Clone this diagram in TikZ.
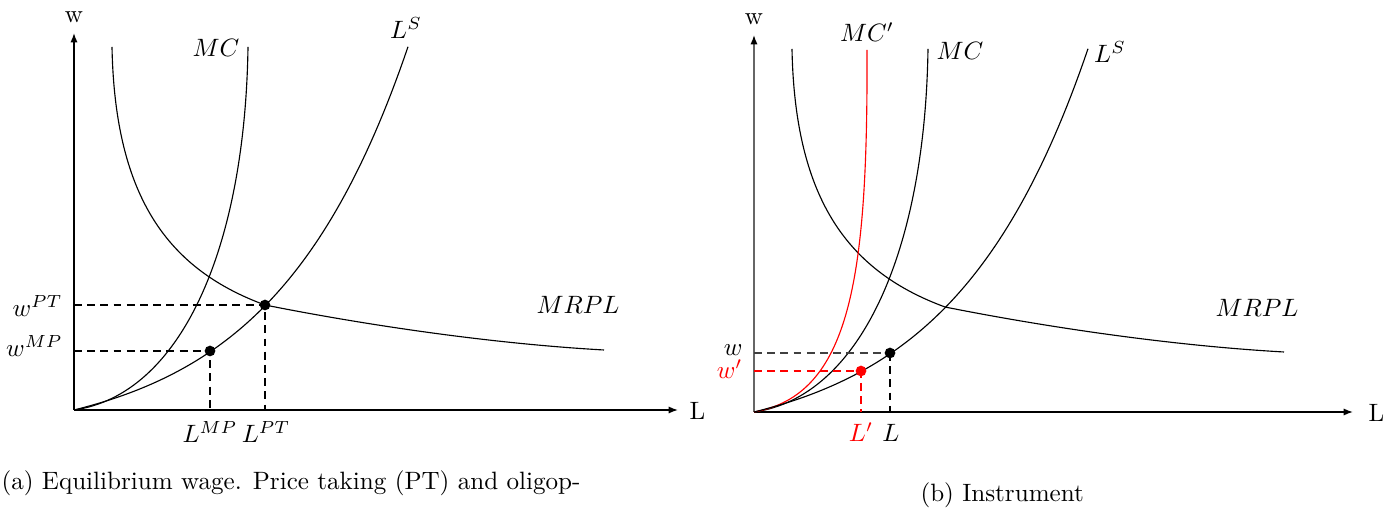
\documentclass[tikz,border=0pt]{standalone}
\usetikzlibrary{arrows.meta}
\tikzset{
  axis/.style={line width=0.6pt,-{Latex[length=1.3mm,width=1mm]}},
  curve/.style={line width=0.45pt},
  guide/.style={line width=0.5pt,dash pattern=on 0.11cm off 0.075cm},
  dotnode/.style={circle,inner sep=0pt,minimum size=0.15cm},
  lab/.style={inner sep=0pt},
  supply/.style={curve,domain=0:334,samples=80,variable=\u},
}
\begin{document}
\begin{tikzpicture}[x=0.014cm,y=-0.014cm]
\useasboundingbox (0,0) rectangle (1394,508);

% ---------------- left panel ----------------
\begin{scope}
\coordinate (O1) at (74,410);
\coordinate (Y1) at (74,33);
\coordinate (X1) at (678,410);
\draw[axis] (O1) -- (Y1);
\draw[axis] (O1) -- (X1);
\node[lab,anchor=base] (wax1) at (74,23) {w};
\node[lab,anchor=base west] (Lax1) at (689,420) {L};

\coordinate (MRtop1) at (112,47);
\coordinate (MRend1) at (604,350);
\coordinate (MCtop1) at (248,47);

\node[dotnode] (PT) at (265,305) {};
\node[dotnode] (MP) at (210,351) {};

\draw[curve] (MRtop1) .. controls (115,200) and (170,270) .. (PT.center)
             .. controls (350,322) and (480,343) .. (MRend1);
\draw[curve] (O1) .. controls (180,395) and (245,250) .. (MCtop1);
\draw[supply] plot ({74+\u},{410-33.5*(exp(0.0074*\u)-1)});

\coordinate (wPT) at (74,305);
\coordinate (wMP) at (74,351);
\coordinate (LPT) at (265,410);
\coordinate (LMP) at (210,410);
\draw[guide] (wPT) -- (PT.center) -- (LPT);
\draw[guide] (wMP) -- (MP.center) -- (LMP);
\fill (PT.center) circle[radius=0.075cm];
\fill (MP.center) circle[radius=0.075cm];

\node[lab,anchor=base east] (lwPT) at (63,317) {$w^{PT}$};
\node[lab,anchor=base east] (lwMP) at (63,357) {$w^{MP}$};
\node[lab,anchor=base] (lLMP) at (210,443) {$L^{MP}$};
\node[lab,anchor=base] (lLPT) at (266,443) {$L^{PT}$};
\node[lab,anchor=base] (lMC1) at (216,57) {$MC$};
\node[lab,anchor=base] (lLS1) at (406,39) {$L^{S}$};
\node[lab,anchor=base] (lMR1) at (578,314) {$MRPL$};

\node[lab,anchor=base west] (capa) at (1,490) {(a) Equilibrium wage.  Price taking (PT) and oligop-};
\end{scope}

% ---------------- right panel ----------------
\begin{scope}[shift={(680,2)}]
\coordinate (O2) at (74,410);
\coordinate (Y2) at (74,33);
\coordinate (X2) at (673,410);
\draw[line width=0.6pt,black!60,-{Latex[length=1.3mm,width=1mm,color=black]}] (O2) -- (Y2);
\draw[axis] (O2) -- (X2);
\node[lab,anchor=base] (wax2) at (74,23) {w};
\node[lab,anchor=base west] (Lax2) at (688,420) {L};

\coordinate (MRtop2) at (112,47);
\coordinate (MRend2) at (604,350);
\coordinate (MCtop2) at (248,47);
\coordinate (MCptop) at (187,48);

\node[dotnode] (Ebar) at (210,351) {};
\node[dotnode] (Eprime) at (181,369) {};
\coordinate (Aux) at (265,305);

\draw[curve] (MRtop2) .. controls (115,200) and (170,270) .. (Aux)
             .. controls (350,322) and (480,343) .. (MRend2);
\draw[curve] (O2) .. controls (180,395) and (245,250) .. (MCtop2);
\draw[curve,draw=red] (O2) .. controls (170,393) and (188,278) .. (MCptop);
\draw[supply] plot ({74+\u},{410-33.5*(exp(0.0074*\u)-1)});

\coordinate (wE) at (74,351);
\coordinate (LE) at (210,410);
\coordinate (wEp) at (74,369);
\coordinate (LEp) at (181,410);
\draw[guide,draw=black!75] (wE) -- (Ebar.center);
\draw[guide] (Ebar.center) -- (LE);
\draw[guide,draw=red] (wEp) -- (Eprime.center) -- (LEp);
\fill (Ebar.center) circle[radius=0.075cm];
\fill[red] (Eprime.center) circle[radius=0.075cm];

\node[lab,anchor=base east] (lw) at (63,354) {$w$};
\node[lab,anchor=base east,text=red] (lwp) at (63,377) {$w'$};
\node[lab,anchor=base,text=red] (lLp) at (181,440) {$L'$};
\node[lab,anchor=base] (lL) at (211,440) {$L$};
\node[lab,anchor=base] (lMCp) at (187,40) {$MC'$};
\node[lab,anchor=base] (lMC2) at (280,58) {$MC$};
\node[lab,anchor=base] (lLS2) at (430,61) {$L^{S}$};
\node[lab,anchor=base] (lMR2) at (577,315) {$MRPL$};

\node[lab,anchor=base west] (capb) at (240,500) {(b) Instrument};
\end{scope}
\end{tikzpicture}
\end{document}
